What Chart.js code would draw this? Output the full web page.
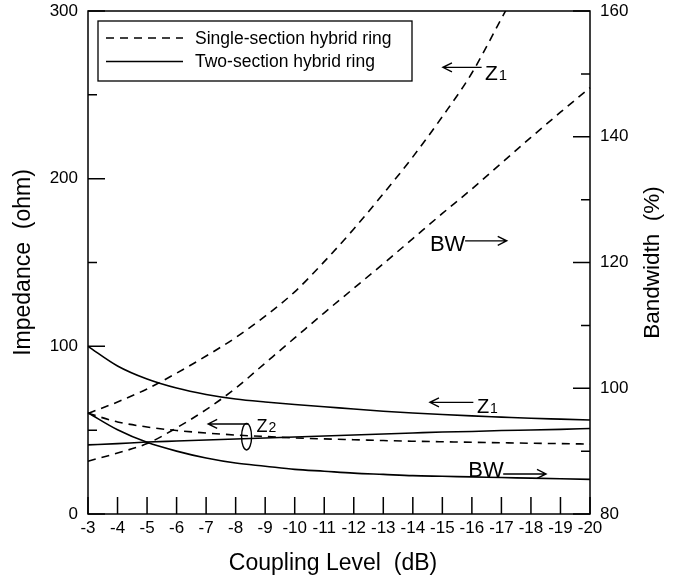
<!DOCTYPE html>
<html>
<head>
<meta charset="utf-8">
<script src="https://cdn.jsdelivr.net/npm/chart.js@4.4.9/dist/chart.umd.min.js"></script>
<style>
    body { margin: 0; background: #fff; }
    #wrap { width: 681px; height: 578px; }
</style>
</head>
<body>
<div id="wrap"><canvas id="coupling-chart" width="681" height="578"></canvas></div>
<script>
const couplingLabels = ['-3', '-4', '-5', '-6', '-7', '-8', '-9', '-10', '-11', '-12', '-13', '-14', '-15', '-16', '-17', '-18', '-19', '-20'];

// single-section hybrid ring (dashed)
const singleZ1 = [60, 66.8, 74.6, 84, 94.2, 105.2, 118, 132.5, 150.5, 170, 191, 213, 237, 263, 295.5, 328];
const singleZ2 = [60.1, 54.9, 51.9, 49.8, 48.3, 47.1, 46.2, 45.4, 44.8, 44.3, 43.8, 43.4, 43.1, 42.8, 42.5, 42.2, 42.0, 41.7];
const singleBW = [88.4, 89.7, 91.2, 93.7, 96.6, 100.0, 104.0, 108.0, 112.0, 115.9, 119.8, 123.8, 127.8, 131.7, 135.8, 139.9, 143.9, 147.8];

// two-section hybrid ring (solid)
const twoZ1 = [100, 88.3, 80.5, 75.1, 71.3, 68.6, 66.8, 65.3, 64.0, 62.6, 61.3, 60.2, 59.3, 58.5, 57.8, 57.1, 56.6, 56.1];
const twoZ2 = [41.2, 42.0, 42.9, 43.5, 44.1, 44.7, 45.3, 45.9, 46.5, 47.1, 47.7, 48.3, 48.9, 49.2, 49.8, 50.1, 50.5, 51.0];
const twoBW = [96.1, 93.4, 91.4, 90.0, 88.9, 88.1, 87.6, 87.1, 86.8, 86.5, 86.3, 86.1, 86.0, 85.9, 85.8, 85.7, 85.6, 85.5];

const legendLabels = ['Single-section hybrid ring', 'Two-section hybrid ring'];

const FONT = '"Liberation Sans", Arial, sans-serif';
const DASH = [8, 6];

// callouts, in chart units (coupling dB, impedance ohm)
const notes = [
    { text: 'Z', sub: '1', size: 21, subSize: 15, tx: -16.44, ty: 258.8, a1: -15.02, a2: -16.33, ay: 266.4, head: 'start' },
    { text: 'BW', size: 22, tx: -14.58, ty: 157.0, a1: -15.77, a2: -17.18, ay: 162.9, head: 'end' },
    { text: 'Z', sub: '1', size: 20, subSize: 14, tx: -16.17, ty: 60.4, a1: -14.58, a2: -16.05, ay: 66.6, head: 'start' },
    { text: 'BW', size: 22, tx: -15.88, ty: 22.2, a1: -17.06, a2: -18.51, ay: 23.9, head: 'end' },
    { text: 'Z', sub: '2', size: 18, subSize: 14, tx: -8.71, ty: 49.1, a1: -7.07, a2: -8.43, ay: 53.7, head: 'start', ring: { x: -8.37, y: 46.1 } }
];

const makeLine = (data, axis, dashed) => ({
    data: data,
    yAxisID: axis,
    borderColor: '#000',
    borderWidth: 1.6,
    borderDash: dashed ? DASH : [],
    pointRadius: 0,
    fill: false,
    cubicInterpolationMode: 'monotone'
});

const xPix = (scale, db) => scale.getPixelForValue(-3 - db);

const drawArrow = (ctx, x1, x2, y, headAt) => {
    ctx.beginPath();
    ctx.moveTo(x1, y);
    ctx.lineTo(x2, y);
    const hx = headAt === 'start' ? x1 : x2;
    const dir = headAt === 'start' ? 1 : -1;
    ctx.moveTo(hx + dir * 9, y - 4.5);
    ctx.lineTo(hx, y);
    ctx.lineTo(hx + dir * 9, y + 4.5);
    ctx.stroke();
};

// keep the plot box where the original has it
const fixWidth = w => scale => {
    scale.width = w;
    scale.paddingTop = 0;
    scale.paddingBottom = 0;
};

const decorations = {
    id: 'decorations',
    afterDatasetsDraw(chart) {
        const { ctx, chartArea: a, scales } = chart;
        ctx.save();
        ctx.strokeStyle = '#000';
        ctx.fillStyle = '#000';
        ctx.lineWidth = 1.5;
        ctx.setLineDash([]);
        ctx.strokeRect(a.left, a.top, a.right - a.left, a.bottom - a.top);

        // inward ticks
        ctx.beginPath();
        scales.x.ticks.forEach((t, i) => {
            const x = scales.x.getPixelForTick(i);
            ctx.moveTo(x, a.bottom);
            ctx.lineTo(x, a.bottom - 17);
        });
        scales.y.ticks.forEach(t => {
            const y = scales.y.getPixelForValue(t.value);
            ctx.moveTo(a.left, y);
            ctx.lineTo(a.left + (t.value % 100 === 0 ? 17 : 9), y);
        });
        scales.y2.ticks.forEach(t => {
            const y = scales.y2.getPixelForValue(t.value);
            ctx.moveTo(a.right, y);
            ctx.lineTo(a.right - (t.value % 20 === 0 ? 17 : 9), y);
        });
        ctx.stroke();

        // legend box
        const lx = a.left + 10, ly = a.top + 10;
        ctx.lineWidth = 1.3;
        ctx.strokeRect(lx, ly, 314, 60);
        ctx.font = `17.5px ${FONT}`;
        ctx.textBaseline = 'middle';
        ctx.textAlign = 'left';
        legendLabels.forEach((label, i) => {
            const y = ly + 17 + i * 23.5;
            ctx.setLineDash(i === 0 ? DASH : []);
            ctx.lineWidth = 1.5;
            ctx.beginPath();
            ctx.moveTo(lx + 8, y);
            ctx.lineTo(lx + 85, y);
            ctx.stroke();
            ctx.fillText(label, lx + 97, y + 1);
        });
        ctx.setLineDash([]);

        // callouts
        ctx.textBaseline = 'alphabetic';
        ctx.lineWidth = 1.4;
        notes.forEach(n => {
            const tx = xPix(scales.x, n.tx);
            const ty = scales.y.getPixelForValue(n.ty);
            ctx.font = `${n.size}px ${FONT}`;
            ctx.fillText(n.text, tx, ty);
            if (n.sub) {
                const w = ctx.measureText(n.text).width;
                ctx.font = `${n.subSize}px ${FONT}`;
                ctx.fillText(n.sub, tx + w + 1, ty);
            }
            drawArrow(ctx, xPix(scales.x, n.a1), xPix(scales.x, n.a2), scales.y.getPixelForValue(n.ay), n.head);
            if (n.ring) {
                ctx.beginPath();
                ctx.ellipse(xPix(scales.x, n.ring.x), scales.y.getPixelForValue(n.ring.y), 5, 13.3, 0, 0, Math.PI * 2);
                ctx.stroke();
            }
        });

        // axis titles
        ctx.font = `23px ${FONT}`;
        ctx.textAlign = 'center';
        ctx.fillText('Coupling Level  (dB)', (a.left + a.right) / 2 - 6, a.bottom + 56);
        const midY = (a.top + a.bottom) / 2;
        ctx.save();
        ctx.translate(a.left - 58, midY);
        ctx.rotate(-Math.PI / 2);
        ctx.fillText('Impedance  (ohm)', 0, 0);
        ctx.restore();
        ctx.font = `22.5px ${FONT}`;
        ctx.save();
        ctx.translate(a.right + 69, midY);
        ctx.rotate(-Math.PI / 2);
        ctx.fillText('Bandwidth  (%)', 0, 0);
        ctx.restore();
        ctx.restore();
    }
};

Chart.defaults.font.family = FONT;
Chart.defaults.color = '#000';

const ctx = document.getElementById('coupling-chart').getContext('2d');

new Chart(ctx, {
    type: 'line',
    data: {
        labels: couplingLabels,
        datasets: [
            makeLine(singleZ1, 'y', true),
            makeLine(singleZ2, 'y', true),
            makeLine(singleBW, 'y2', true),
            makeLine(twoZ1, 'y', false),
            makeLine(twoZ2, 'y', false),
            makeLine(twoBW, 'y2', false)
        ]
    },
    options: {
        responsive: false,
        animation: false,
        layout: { padding: { top: 11, left: 0, right: 0, bottom: 0 } },
        plugins: {
            legend: { display: false },
            tooltip: { enabled: false }
        },
        scales: {
            x: {
                type: 'category',
                offset: false,
                grid: { display: false, drawTicks: false },
                border: { display: false },
                ticks: { font: { size: 17 }, padding: 4, autoSkip: false, maxRotation: 0 },
                afterFit: scale => {
                    scale.height = 64;
                    scale.paddingLeft = 0;
                    scale.paddingRight = 0;
                }
            },
            y: {
                position: 'left',
                min: 0,
                max: 300,
                grid: { display: false, drawTicks: false },
                border: { display: false },
                ticks: {
                    stepSize: 50,
                    padding: 10,
                    font: { size: 17 },
                    callback: v => (v % 100 === 0 ? v : '')
                },
                afterFit: fixWidth(88)
            },
            y2: {
                position: 'right',
                min: 80,
                max: 160,
                grid: { display: false, drawTicks: false },
                border: { display: false },
                ticks: {
                    stepSize: 10,
                    padding: 10,
                    font: { size: 17 },
                    callback: v => (v % 20 === 0 ? v : '')
                },
                afterFit: fixWidth(91)
            }
        }
    },
    plugins: [decorations]
});
</script>
</body>
</html>
